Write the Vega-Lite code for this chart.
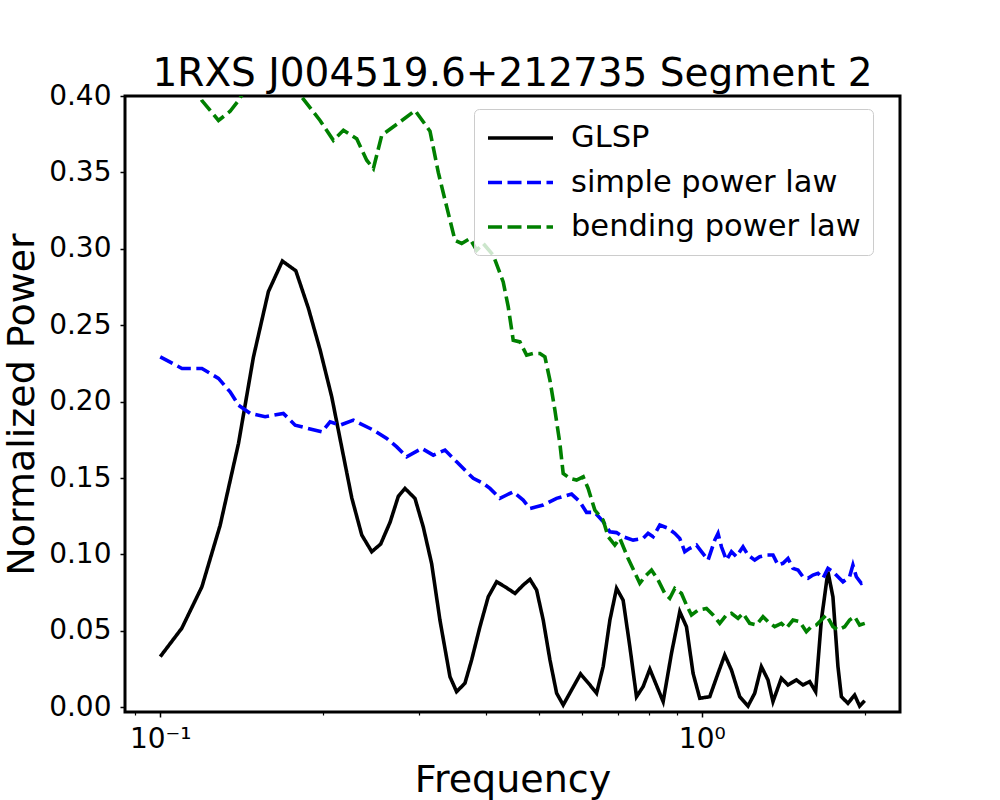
{
  "$schema": "https://vega.github.io/schema/vega-lite/v6.json",
  "width": 775,
  "height": 616,
  "autosize": "none",
  "padding": {"left": 125, "top": 96, "right": 100, "bottom": 88},
  "background": "white",
  "config": {
    "font": "DejaVu Sans",
    "view": {"stroke": "black", "strokeWidth": 3},
    "axis": {"labelFont": "DejaVu Sans", "titleFont": "DejaVu Sans", "labelColor": "black", "titleColor": "black", "tickColor": "black", "titleFontWeight": "normal", "grid": false, "domain": false}
  },
  "title": {"text": "1RXS J004519.6+212735 Segment 2", "fontSize": 39, "fontWeight": "normal", "font": "DejaVu Sans", "color": "black", "anchor": "middle", "offset": -12, "frame": "group"},
  "data": {"values": [
    {"f":0.1,"p":0.0331,"s":"GLSP"},{"f":0.1096,"p":0.0517,"s":"GLSP"},{"f":0.1194,"p":0.0789,"s":"GLSP"},{"f":0.129,"p":0.119,"s":"GLSP"},{"f":0.1395,"p":0.1727,"s":"GLSP"},{"f":0.1486,"p":0.229,"s":"GLSP"},{"f":0.1584,"p":0.272,"s":"GLSP"},{"f":0.1681,"p":0.292,"s":"GLSP"},{"f":0.178,"p":0.2856,"s":"GLSP"},{"f":0.1878,"p":0.261,"s":"GLSP"},{"f":0.1973,"p":0.234,"s":"GLSP"},{"f":0.2074,"p":0.203,"s":"GLSP"},{"f":0.2164,"p":0.17,"s":"GLSP"},{"f":0.2258,"p":0.137,"s":"GLSP"},{"f":0.2356,"p":0.1127,"s":"GLSP"},{"f":0.2458,"p":0.1018,"s":"GLSP"},{"f":0.2553,"p":0.1068,"s":"GLSP"},{"f":0.2657,"p":0.121,"s":"GLSP"},{"f":0.2752,"p":0.138,"s":"GLSP"},{"f":0.2831,"p":0.1432,"s":"GLSP"},{"f":0.2954,"p":0.1367,"s":"GLSP"},{"f":0.306,"p":0.118,"s":"GLSP"},{"f":0.3171,"p":0.094,"s":"GLSP"},{"f":0.3285,"p":0.057,"s":"GLSP"},{"f":0.3428,"p":0.02,"s":"GLSP"},{"f":0.3526,"p":0.0102,"s":"GLSP"},{"f":0.3653,"p":0.0157,"s":"GLSP"},{"f":0.3759,"p":0.031,"s":"GLSP"},{"f":0.3894,"p":0.0527,"s":"GLSP"},{"f":0.4034,"p":0.0723,"s":"GLSP"},{"f":0.418,"p":0.0821,"s":"GLSP"},{"f":0.433,"p":0.0789,"s":"GLSP"},{"f":0.4519,"p":0.0745,"s":"GLSP"},{"f":0.4681,"p":0.08,"s":"GLSP"},{"f":0.4817,"p":0.0837,"s":"GLSP"},{"f":0.4955,"p":0.0767,"s":"GLSP"},{"f":0.5096,"p":0.0571,"s":"GLSP"},{"f":0.5244,"p":0.031,"s":"GLSP"},{"f":0.5395,"p":0.0092,"s":"GLSP"},{"f":0.5548,"p":0.0015,"s":"GLSP"},{"f":0.5749,"p":0.0113,"s":"GLSP"},{"f":0.5973,"p":0.0218,"s":"GLSP"},{"f":0.6215,"p":0.0146,"s":"GLSP"},{"f":0.6394,"p":0.0092,"s":"GLSP"},{"f":0.6576,"p":0.0266,"s":"GLSP"},{"f":0.6766,"p":0.057,"s":"GLSP"},{"f":0.6961,"p":0.0778,"s":"GLSP"},{"f":0.7159,"p":0.07,"s":"GLSP"},{"f":0.7366,"p":0.0396,"s":"GLSP"},{"f":0.7577,"p":0.0069,"s":"GLSP"},{"f":0.7793,"p":0.0135,"s":"GLSP"},{"f":0.8019,"p":0.025,"s":"GLSP"},{"f":0.8486,"p":0.0037,"s":"GLSP"},{"f":0.8792,"p":0.0353,"s":"GLSP"},{"f":0.9108,"p":0.0625,"s":"GLSP"},{"f":0.9371,"p":0.0527,"s":"GLSP"},{"f":0.9638,"p":0.0222,"s":"GLSP"},{"f":0.9915,"p":0.0059,"s":"GLSP"},{"f":1.0346,"p":0.0069,"s":"GLSP"},{"f":1.0717,"p":0.0222,"s":"GLSP"},{"f":1.1026,"p":0.0342,"s":"GLSP"},{"f":1.1345,"p":0.0244,"s":"GLSP"},{"f":1.1752,"p":0.0069,"s":"GLSP"},{"f":1.2173,"p":0.0008,"s":"GLSP"},{"f":1.2526,"p":0.0092,"s":"GLSP"},{"f":1.2886,"p":0.0266,"s":"GLSP"},{"f":1.3253,"p":0.0179,"s":"GLSP"},{"f":1.3537,"p":0.0037,"s":"GLSP"},{"f":1.4028,"p":0.019,"s":"GLSP"},{"f":1.4428,"p":0.0146,"s":"GLSP"},{"f":1.4952,"p":0.0179,"s":"GLSP"},{"f":1.5378,"p":0.0146,"s":"GLSP"},{"f":1.5823,"p":0.0168,"s":"GLSP"},{"f":1.623,"p":0.0102,"s":"GLSP"},{"f":1.6628,"p":0.057,"s":"GLSP"},{"f":1.71,"p":0.0887,"s":"GLSP"},{"f":1.7467,"p":0.0723,"s":"GLSP"},{"f":1.7845,"p":0.0266,"s":"GLSP"},{"f":1.8107,"p":0.0069,"s":"GLSP"},{"f":1.8618,"p":0.0026,"s":"GLSP"},{"f":1.9156,"p":0.008,"s":"GLSP"},{"f":1.9568,"p":0.0008,"s":"GLSP"},{"f":2.0,"p":0.0043,"s":"GLSP"},

    {"f":0.1,"p":0.2293,"s":"simple power law"},{"f":0.1097,"p":0.2217,"s":"simple power law"},{"f":0.1194,"p":0.2217,"s":"simple power law"},{"f":0.1281,"p":0.2152,"s":"simple power law"},{"f":0.1346,"p":0.2064,"s":"simple power law"},{"f":0.1395,"p":0.1977,"s":"simple power law"},{"f":0.1466,"p":0.1923,"s":"simple power law"},{"f":0.1562,"p":0.1901,"s":"simple power law"},{"f":0.1688,"p":0.1923,"s":"simple power law"},{"f":0.1775,"p":0.1846,"s":"simple power law"},{"f":0.1988,"p":0.1802,"s":"simple power law"},{"f":0.2059,"p":0.1868,"s":"simple power law"},{"f":0.2148,"p":0.1846,"s":"simple power law"},{"f":0.2273,"p":0.1879,"s":"simple power law"},{"f":0.2475,"p":0.1814,"s":"simple power law"},{"f":0.262,"p":0.1759,"s":"simple power law"},{"f":0.2734,"p":0.1704,"s":"simple power law"},{"f":0.2852,"p":0.1639,"s":"simple power law"},{"f":0.304,"p":0.1694,"s":"simple power law"},{"f":0.3193,"p":0.165,"s":"simple power law"},{"f":0.3356,"p":0.1683,"s":"simple power law"},{"f":0.3527,"p":0.1606,"s":"simple power law"},{"f":0.3705,"p":0.153,"s":"simple power law"},{"f":0.3785,"p":0.1498,"s":"simple power law"},{"f":0.3949,"p":0.1465,"s":"simple power law"},{"f":0.4063,"p":0.1432,"s":"simple power law"},{"f":0.4239,"p":0.1367,"s":"simple power law"},{"f":0.4362,"p":0.1389,"s":"simple power law"},{"f":0.4486,"p":0.141,"s":"simple power law"},{"f":0.468,"p":0.1356,"s":"simple power law"},{"f":0.4816,"p":0.1301,"s":"simple power law"},{"f":0.5096,"p":0.1323,"s":"simple power law"},{"f":0.5394,"p":0.1367,"s":"simple power law"},{"f":0.5749,"p":0.1395,"s":"simple power law"},{"f":0.5955,"p":0.1345,"s":"simple power law"},{"f":0.6127,"p":0.1275,"s":"simple power law"},{"f":0.6347,"p":0.1275,"s":"simple power law"},{"f":0.6575,"p":0.1215,"s":"simple power law"},{"f":0.6764,"p":0.1148,"s":"simple power law"},{"f":0.696,"p":0.1143,"s":"simple power law"},{"f":0.7158,"p":0.1116,"s":"simple power law"},{"f":0.7469,"p":0.1094,"s":"simple power law"},{"f":0.7793,"p":0.1105,"s":"simple power law"},{"f":0.796,"p":0.1138,"s":"simple power law"},{"f":0.8131,"p":0.1116,"s":"simple power law"},{"f":0.8366,"p":0.1192,"s":"simple power law"},{"f":0.8666,"p":0.1171,"s":"simple power law"},{"f":0.8916,"p":0.1138,"s":"simple power law"},{"f":0.9107,"p":0.1105,"s":"simple power law"},{"f":0.9303,"p":0.1018,"s":"simple power law"},{"f":0.9503,"p":0.104,"s":"simple power law"},{"f":0.9777,"p":0.1061,"s":"simple power law"},{"f":0.9987,"p":0.1018,"s":"simple power law"},{"f":1.0272,"p":0.0963,"s":"simple power law"},{"f":1.0568,"p":0.1094,"s":"simple power law"},{"f":1.0717,"p":0.1138,"s":"simple power law"},{"f":1.0873,"p":0.105,"s":"simple power law"},{"f":1.1107,"p":0.0963,"s":"simple power law"},{"f":1.1345,"p":0.1018,"s":"simple power law"},{"f":1.1588,"p":0.0985,"s":"simple power law"},{"f":1.1918,"p":0.105,"s":"simple power law"},{"f":1.2174,"p":0.0996,"s":"simple power law"},{"f":1.2525,"p":0.0963,"s":"simple power law"},{"f":1.2795,"p":0.0985,"s":"simple power law"},{"f":1.3164,"p":0.0996,"s":"simple power law"},{"f":1.3538,"p":0.0996,"s":"simple power law"},{"f":1.3828,"p":0.0931,"s":"simple power law"},{"f":1.4126,"p":0.0942,"s":"simple power law"},{"f":1.4429,"p":0.0974,"s":"simple power law"},{"f":1.4738,"p":0.0909,"s":"simple power law"},{"f":1.5055,"p":0.0898,"s":"simple power law"},{"f":1.5378,"p":0.0854,"s":"simple power law"},{"f":1.5709,"p":0.0844,"s":"simple power law"},{"f":1.6046,"p":0.0865,"s":"simple power law"},{"f":1.6389,"p":0.0876,"s":"simple power law"},{"f":1.6742,"p":0.0844,"s":"simple power law"},{"f":1.7101,"p":0.0909,"s":"simple power law"},{"f":1.7469,"p":0.0887,"s":"simple power law"},{"f":1.7844,"p":0.0854,"s":"simple power law"},{"f":1.8228,"p":0.0821,"s":"simple power law"},{"f":1.8752,"p":0.0854,"s":"simple power law"},{"f":1.9017,"p":0.0931,"s":"simple power law"},{"f":1.9295,"p":0.0854,"s":"simple power law"},{"f":1.9708,"p":0.0811,"s":"simple power law"},{"f":2.0,"p":0.082,"s":"simple power law"},

    {"f":0.1,"p":0.44,"s":"bending power law"},{"f":0.1097,"p":0.425,"s":"bending power law"},{"f":0.1194,"p":0.397,"s":"bending power law"},{"f":0.1281,"p":0.384,"s":"bending power law"},{"f":0.1346,"p":0.39,"s":"bending power law"},{"f":0.1395,"p":0.397,"s":"bending power law"},{"f":0.1466,"p":0.41,"s":"bending power law"},{"f":0.1562,"p":0.422,"s":"bending power law"},{"f":0.1688,"p":0.418,"s":"bending power law"},{"f":0.1775,"p":0.405,"s":"bending power law"},{"f":0.1826,"p":0.3993,"s":"bending power law"},{"f":0.1973,"p":0.384,"s":"bending power law"},{"f":0.2088,"p":0.371,"s":"bending power law"},{"f":0.2179,"p":0.3776,"s":"bending power law"},{"f":0.2306,"p":0.372,"s":"bending power law"},{"f":0.2406,"p":0.358,"s":"bending power law"},{"f":0.2475,"p":0.3525,"s":"bending power law"},{"f":0.2565,"p":0.3743,"s":"bending power law"},{"f":0.2772,"p":0.383,"s":"bending power law"},{"f":0.2955,"p":0.3905,"s":"bending power law"},{"f":0.3149,"p":0.377,"s":"bending power law"},{"f":0.3262,"p":0.35,"s":"bending power law"},{"f":0.3381,"p":0.3274,"s":"bending power law"},{"f":0.3502,"p":0.3056,"s":"bending power law"},{"f":0.3603,"p":0.3035,"s":"bending power law"},{"f":0.3732,"p":0.3067,"s":"bending power law"},{"f":0.384,"p":0.2991,"s":"bending power law"},{"f":0.3949,"p":0.3035,"s":"bending power law"},{"f":0.4121,"p":0.2958,"s":"bending power law"},{"f":0.4299,"p":0.2783,"s":"bending power law"},{"f":0.4392,"p":0.262,"s":"bending power law"},{"f":0.4486,"p":0.2402,"s":"bending power law"},{"f":0.4616,"p":0.2391,"s":"bending power law"},{"f":0.4749,"p":0.2304,"s":"bending power law"},{"f":0.4884,"p":0.2315,"s":"bending power law"},{"f":0.5025,"p":0.2315,"s":"bending power law"},{"f":0.5133,"p":0.2293,"s":"bending power law"},{"f":0.5243,"p":0.2141,"s":"bending power law"},{"f":0.5356,"p":0.1944,"s":"bending power law"},{"f":0.547,"p":0.1727,"s":"bending power law"},{"f":0.5548,"p":0.153,"s":"bending power law"},{"f":0.5708,"p":0.1498,"s":"bending power law"},{"f":0.5873,"p":0.1487,"s":"bending power law"},{"f":0.604,"p":0.1508,"s":"bending power law"},{"f":0.6169,"p":0.1432,"s":"bending power law"},{"f":0.6347,"p":0.129,"s":"bending power law"},{"f":0.6575,"p":0.1225,"s":"bending power law"},{"f":0.6716,"p":0.1116,"s":"bending power law"},{"f":0.691,"p":0.1061,"s":"bending power law"},{"f":0.7059,"p":0.1105,"s":"bending power law"},{"f":0.7312,"p":0.0974,"s":"bending power law"},{"f":0.7684,"p":0.0811,"s":"bending power law"},{"f":0.7849,"p":0.0854,"s":"bending power law"},{"f":0.8076,"p":0.0898,"s":"bending power law"},{"f":0.8306,"p":0.0833,"s":"bending power law"},{"f":0.8546,"p":0.0745,"s":"bending power law"},{"f":0.8729,"p":0.0713,"s":"bending power law"},{"f":0.8916,"p":0.0778,"s":"bending power law"},{"f":0.9174,"p":0.0745,"s":"bending power law"},{"f":0.9371,"p":0.0669,"s":"bending power law"},{"f":0.9572,"p":0.0604,"s":"bending power law"},{"f":0.9844,"p":0.0636,"s":"bending power law"},{"f":1.0202,"p":0.0647,"s":"bending power law"},{"f":1.0492,"p":0.0604,"s":"bending power law"},{"f":1.0795,"p":0.0549,"s":"bending power law"},{"f":1.1107,"p":0.0604,"s":"bending power law"},{"f":1.1345,"p":0.0615,"s":"bending power law"},{"f":1.1668,"p":0.0582,"s":"bending power law"},{"f":1.1918,"p":0.0615,"s":"bending power law"},{"f":1.2262,"p":0.0549,"s":"bending power law"},{"f":1.2617,"p":0.0538,"s":"bending power law"},{"f":1.2975,"p":0.0593,"s":"bending power law"},{"f":1.3254,"p":0.056,"s":"bending power law"},{"f":1.3636,"p":0.0527,"s":"bending power law"},{"f":1.403,"p":0.0549,"s":"bending power law"},{"f":1.4331,"p":0.0517,"s":"bending power law"},{"f":1.4738,"p":0.0571,"s":"bending power law"},{"f":1.5164,"p":0.056,"s":"bending power law"},{"f":1.5602,"p":0.0494,"s":"bending power law"},{"f":1.5937,"p":0.0527,"s":"bending power law"},{"f":1.628,"p":0.0538,"s":"bending power law"},{"f":1.6628,"p":0.0571,"s":"bending power law"},{"f":1.6986,"p":0.0604,"s":"bending power law"},{"f":1.7469,"p":0.0527,"s":"bending power law"},{"f":1.7844,"p":0.0506,"s":"bending power law"},{"f":1.8359,"p":0.0527,"s":"bending power law"},{"f":1.8752,"p":0.0571,"s":"bending power law"},{"f":1.9156,"p":0.0593,"s":"bending power law"},{"f":1.9567,"p":0.0538,"s":"bending power law"},{"f":2.0,"p":0.0549,"s":"bending power law"}
  ]},
  "layer": [
    {
      "mark": {"type": "line", "clip": true, "strokeWidth": 3.6},
      "encoding": {
        "x": {"field": "f", "type": "quantitative",
          "scale": {"type": "log", "domain": [0.08609, 2.3232], "nice": false},
          "axis": {"values": [0.1, 1], "labelExpr": "datum.value < 0.5 ? '10⁻¹' : '10⁰'", "labelFontSize": 28, "tickSize": 5, "tickWidth": 1.5, "labelPadding": 8, "title": "Frequency", "titleFontSize": 38, "titlePadding": 8, "orient": "bottom"}},
        "y": {"field": "p", "type": "quantitative",
          "scale": {"domain": [-0.0031, 0.4], "nice": false, "zero": false},
          "axis": {"values": [0, 0.05, 0.1, 0.15, 0.2, 0.25, 0.3, 0.35, 0.4], "format": ".2f", "labelFontSize": 28, "tickSize": 5, "tickWidth": 1.5, "labelPadding": 9, "title": "Normalized Power", "titleFontSize": 38, "titlePadding": 7}},
        "color": {"field": "s", "type": "nominal",
          "scale": {"domain": ["GLSP", "simple power law", "bending power law"], "range": ["#000000", "#0000ff", "#008000"]},
          "legend": {"title": null, "orient": "none", "legendX": 349, "legendY": 13, "labelFontSize": 30.5, "labelFont": "DejaVu Sans", "labelColor": "black", "labelLimit": 400, "labelOffset": 51, "symbolType": "M-1,0L3.333,0", "symbolSize": 900, "symbolStrokeWidth": 3.6, "rowPadding": 11.5, "padding": 12, "fillColor": "rgba(255,255,255,0.8)", "strokeColor": "#cccccc", "cornerRadius": 5}},
        "strokeDash": {"field": "s", "type": "nominal",
          "scale": {"domain": ["GLSP", "simple power law", "bending power law"], "range": [[1, 0], [14, 5.5], [14, 5.5]]},
          "legend": null}
      }
    },
    {
      "mark": {"type": "line", "opacity": 0, "clip": true},
      "encoding": {
        "x": {"field": "f", "type": "quantitative",
          "axis": {"orient": "bottom", "values": [0.09, 0.2, 0.3, 0.4, 0.5, 0.6, 0.7, 0.8, 0.9, 2], "labels": false, "tickSize": 3, "tickWidth": 1.2, "title": null, "domain": false, "grid": false}},
        "y": {"field": "p", "type": "quantitative"},
        "detail": {"field": "s"}
      }
    }
  ],
  "resolve": {"axis": {"x": "independent"}}
}
